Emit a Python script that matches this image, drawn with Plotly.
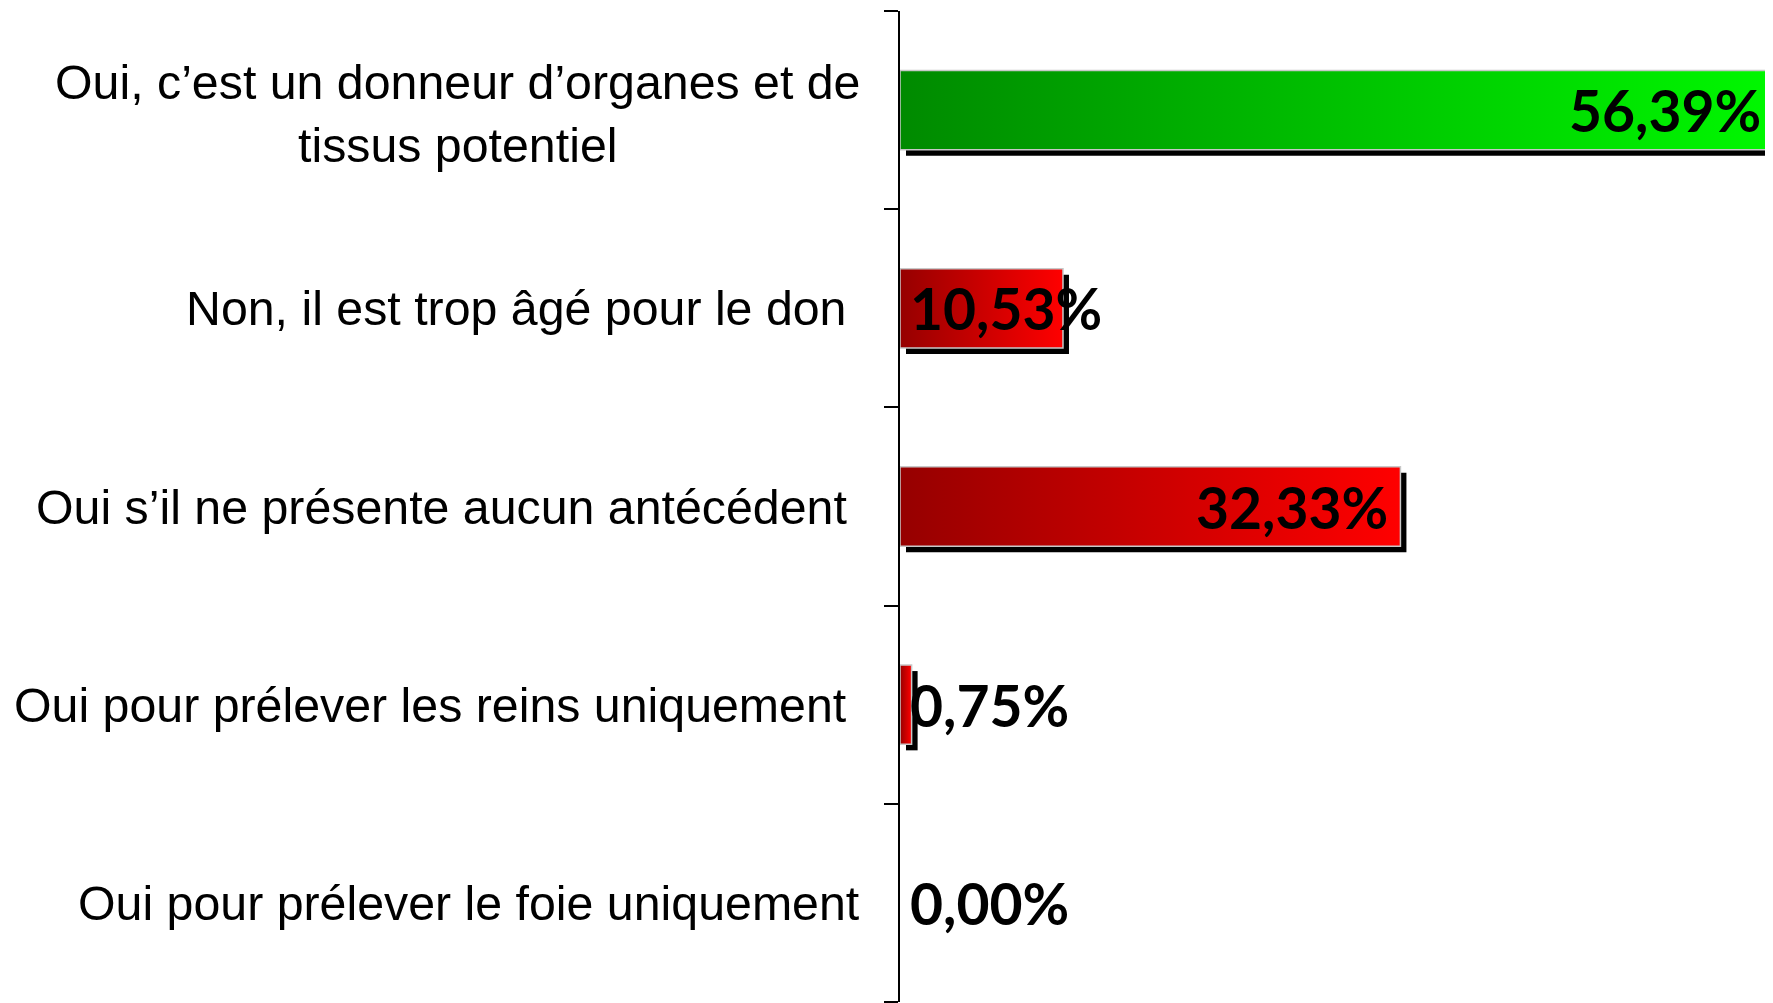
import plotly.graph_objects as go

categories = [
    "Oui, c\u2019est un donneur d\u2019organes et de<br>tissus potentiel",
    "Non, il est trop \u00e2g\u00e9 pour le don\u00a0",
    "Oui s\u2019il ne pr\u00e9sente aucun ant\u00e9c\u00e9dent\u00a0",
    "Oui pour pr\u00e9lever les reins uniquement\u00a0",
    "Oui pour pr\u00e9lever le foie uniquement",
]
values = [56.39, 10.53, 32.33, 0.75, 0.00]
value_labels = ["56,39%", "10,53%", "32,33%", "0,75%", "0,00%"]
bar_colors = [
    ("#008a00", "#00f800"),
    ("#960000", "#ff0000"),
    ("#960000", "#ff0000"),
    ("#960000", "#ff0000"),
    ("#960000", "#ff0000"),
]

# page body has an 8px margin, so the figure is offset by 8px
W, H = 1765, 995
ML, MR, MT, MB = 892, 0, 3, 1
XMAX = 56.4
px_per_x = (W - ML - MR) / XMAX
px_per_y = (H - MT - MB) / len(categories)
half = 0.2
sh_dx = 6 / px_per_x
sh_dy = 6 / px_per_y

fig = go.Figure()

for i, (v, (c0, c1)) in enumerate(zip(values, bar_colors)):
    if v <= 0:
        continue
    # shadow
    fig.add_trace(go.Scatter(
        x=[sh_dx, v + sh_dx, v + sh_dx, sh_dx, sh_dx],
        y=[i - half + sh_dy, i - half + sh_dy, i + half + sh_dy, i + half + sh_dy, i - half + sh_dy],
        fill="toself", fillcolor="#000000", mode="lines",
        line=dict(width=0, color="#000000"), hoverinfo="skip", showlegend=False,
    ))
    # bar
    fig.add_trace(go.Scatter(
        x=[0, v, v, 0, 0],
        y=[i - half, i - half, i + half, i + half, i - half],
        fill="toself", mode="lines",
        fillgradient=dict(type="horizontal", colorscale=[[0, c0], [1, c1]]),
        line=dict(width=1.5, color="#c8c8c8"), hoverinfo="skip", showlegend=False,
    ))

annotations = []
for i, (v, lab) in enumerate(zip(values, value_labels)):
    inside = v > 20
    annotations.append(dict(
        x=v if inside else 0, y=i, xref="x", yref="y",
        text=lab, showarrow=False,
        xanchor="right" if inside else "left",
        xshift=-10 if inside else 8,
        font=dict(family="Lato", size=57, color="#000000", weight="bold"),
    ))

for i, cat in enumerate(categories):
    annotations.append(dict(
        x=0, y=i, xref="paper", yref="y",
        text=cat, showarrow=False, xanchor="right", align="center",
        xshift=-38, yshift=-3 if "<br>" in cat else 0,
        font=dict(family="Liberation Sans", size=48.3, color="#000000"),
    ))

fig.update_layout(
    width=W, height=H,
    margin=dict(l=ML, r=MR, t=MT, b=MB, pad=0),
    paper_bgcolor="white", plot_bgcolor="white",
    showlegend=False,
    annotations=annotations,
    xaxis=dict(range=[0, XMAX], visible=False, fixedrange=True),
    yaxis=dict(
        range=[len(categories) - 0.5, -0.5],
        tickvals=[k - 0.5 for k in range(len(categories) + 1)],
        ticks="outside", ticklen=14, tickwidth=2, tickcolor="#000000",
        showticklabels=False, showline=True, linewidth=2, linecolor="#000000",
        showgrid=False, zeroline=False, fixedrange=True,
    ),
)

fig.write_html("out.html")
